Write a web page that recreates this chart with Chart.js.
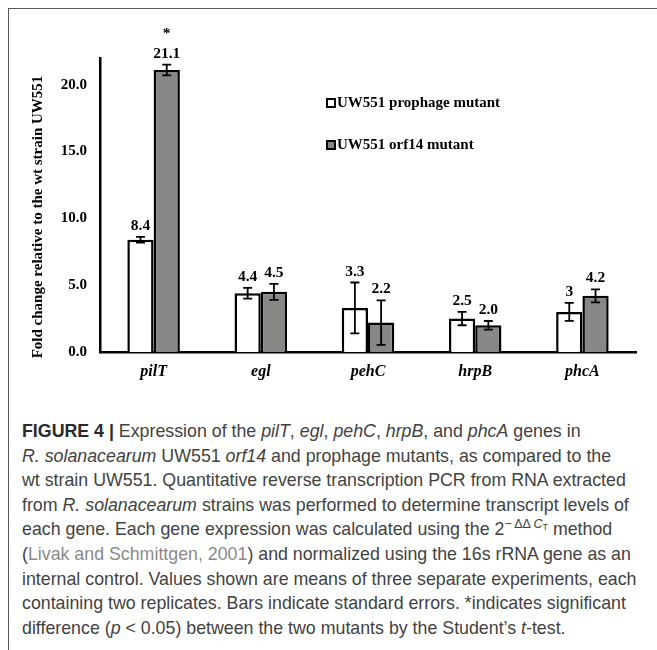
<!DOCTYPE html>
<html>
<head>
<meta charset="utf-8">
<script src="https://cdn.jsdelivr.net/npm/chart.js@4.4.1/dist/chart.umd.min.js"></script>
<style>
  html, body { margin: 0; padding: 0; background: #fff; }
  .page { position: relative; width: 657px; height: 650px; overflow: hidden; }
  .frame { position: absolute; left: 8px; top: 8px; width: 700px; height: 700px; border: 1.5px solid #555; }
  .chart-box { position: absolute; left: 0; top: 0; width: 657px; height: 400px; }
  .caption {
    position: absolute; left: 22px; top: 419px;
    font-family: "Liberation Sans", Arial, sans-serif;
    font-size: 17.8px; line-height: 24.6px; color: #424242; white-space: nowrap;
  }
  .caption b { color: #2a2a2a; }
  .caption .ref { color: #8a8a8a; }
  .caption sup { font-size: 12.5px; vertical-align: 7px; line-height: 0; }
  .caption sub { font-size: 9px; vertical-align: -2px; }
</style>
</head>
<body>
<div class="page">
  <div class="frame"></div>
  <div class="chart-box"><canvas id="geneChart" width="657" height="400"></canvas></div>
  <div class="caption">
    <b>FIGURE 4 |</b> Expression of the <i>pilT</i>, <i>egl</i>, <i>pehC</i>, <i>hrpB</i>, and <i>phcA</i> genes in<br>
    <i>R. solanacearum</i> UW551 <i>orf14</i> and prophage mutants, as compared to the<br>
    wt strain UW551. Quantitative reverse transcription PCR from RNA extracted<br>
    from <i>R. solanacearum</i> strains was performed to determine transcript levels of<br>
    each gene. Each gene expression was calculated using the 2<sup>&minus;&thinsp;&Delta;&Delta;&thinsp;<i>C</i><sub>T</sub></sup> method<br>
    (<span class="ref">Livak and Schmittgen, 2001</span>) and normalized using the 16s rRNA gene as an<br>
    internal control. Values shown are means of three separate experiments, each<br>
    containing two replicates. Bars indicate standard errors. *indicates significant<br>
    difference (<i>p</i> &lt; 0.05) between the two mutants by the Student&rsquo;s <i>t</i>-test.
  </div>
</div>

<script>
const genes = ['pilT', 'egl', 'pehC', 'hrpB', 'phcA'];
const seriesNames = ['UW551 prophage mutant', 'UW551 orf14 mutant'];
const prophage = [8.4, 4.4, 3.3, 2.5, 3.0];
const orf14 = [21.1, 4.5, 2.2, 2.0, 4.2];
const prophageErr = [0.22, 0.4, 1.9, 0.5, 0.67];
const orf14Err = [0.4, 0.6, 1.67, 0.32, 0.48];
const prophageLabels = ['8.4', '4.4', '3.3', '2.5', '3'];
const orf14Labels = ['21.1', '4.5', '2.2', '2.0', '4.2'];
const significance = ['*', '', '', '', ''];
const yTicks = [0, 5, 10, 15, 20];

const SERIF = '"Liberation Serif", "Times New Roman", serif';
const GRAY = '#878785';

const errors = [prophageErr, orf14Err];
const valueLabels = [prophageLabels, orf14Labels];

// error bars, value labels and the significance star
const errorBarPlugin = {
  id: 'errorBars',
  afterDatasetsDraw(chart) {
    const ctx = chart.ctx;
    const y = chart.scales.y;
    ctx.save();
    chart.data.datasets.forEach((ds, di) => {
      const meta = chart.getDatasetMeta(di);
      meta.data.forEach((bar, i) => {
        const v = ds.data[i];
        const e = errors[di][i];
        const top = y.getPixelForValue(v + e);
        const bot = y.getPixelForValue(v - e);
        ctx.strokeStyle = '#000';
        ctx.lineWidth = 1.8;
        ctx.beginPath();
        ctx.moveTo(bar.x, top); ctx.lineTo(bar.x, bot);
        ctx.moveTo(bar.x - 4.5, top); ctx.lineTo(bar.x + 4.5, top);
        ctx.moveTo(bar.x - 4.5, bot); ctx.lineTo(bar.x + 4.5, bot);
        ctx.stroke();

        ctx.fillStyle = '#000';
        ctx.font = 'bold 15.5px ' + SERIF;
        ctx.textAlign = 'center';
        ctx.textBaseline = 'middle';
        ctx.fillText(valueLabels[di][i], bar.x, top - 11);
        if (di === 1 && significance[i]) {
          ctx.fillText(significance[i], bar.x, top - 31);
        }
      });
    });
    ctx.restore();
  }
};

// legend box inside the plot and the y axis title
const decorPlugin = {
  id: 'decor',
  afterDraw(chart) {
    const ctx = chart.ctx;
    ctx.save();
    const fills = ['#fff', GRAY];
    const rows = [103, 145];
    ctx.font = 'bold 15px ' + SERIF;
    ctx.textBaseline = 'middle';
    ctx.textAlign = 'left';
    seriesNames.forEach((name, i) => {
      ctx.fillStyle = fills[i];
      ctx.fillRect(327, rows[i] - 4, 8, 8);
      ctx.strokeStyle = '#000';
      ctx.lineWidth = 2;
      ctx.strokeRect(327, rows[i] - 4, 8, 8);
      ctx.fillStyle = '#000';
      ctx.fillText(name, 337, rows[i]);
    });

    ctx.translate(38, 217);
    ctx.rotate(-Math.PI / 2);
    ctx.textAlign = 'center';
    ctx.font = 'bold 15px ' + SERIF;
    ctx.fillText('Fold change relative to the wt strain UW551', 0, 0);
    ctx.restore();
  }
};

new Chart(document.getElementById('geneChart'), {
  type: 'bar',
  data: {
    labels: genes,
    datasets: [
      {
        label: seriesNames[0],
        data: prophage,
        backgroundColor: '#fff',
        borderColor: '#000',
        borderWidth: 2.5,
        borderSkipped: 'start'
      },
      {
        label: seriesNames[1],
        data: orf14,
        backgroundColor: GRAY,
        borderColor: '#000',
        borderWidth: 2.5,
        borderSkipped: 'start'
      }
    ]
  },
  options: {
    responsive: false,
    animation: false,
    layout: { padding: { top: 58, right: 21, left: 0, bottom: 0 } },
    datasets: { bar: { categoryPercentage: 0.49, barPercentage: 1.0 } },
    plugins: {
      legend: { display: false },
      tooltip: { enabled: false }
    },
    scales: {
      x: {
        grid: { display: false, drawTicks: false },
        border: { display: true, color: '#000', width: 2.5 },
        ticks: {
          color: '#000',
          padding: 10,
          font: { family: SERIF, size: 16, weight: 'bold', style: 'italic' }
        },
        afterFit(scale) { scale.height = 48; }
      },
      y: {
        min: 0,
        max: 22,
        grid: { display: false, drawTicks: false },
        border: { display: true, color: '#000', width: 2.5 },
        ticks: {
          stepSize: 5,
          includeBounds: false,
          color: '#000',
          padding: 13,
          font: { family: SERIF, size: 15, weight: 'bold' },
          callback: v => Number(v).toFixed(1)
        },
        afterBuildTicks(scale) {
          scale.ticks = yTicks.map(v => ({ value: v }));
        },
        afterFit(scale) { scale.width = 100; }
      }
    }
  },
  plugins: [errorBarPlugin, decorPlugin]
});
</script>
</body>
</html>
